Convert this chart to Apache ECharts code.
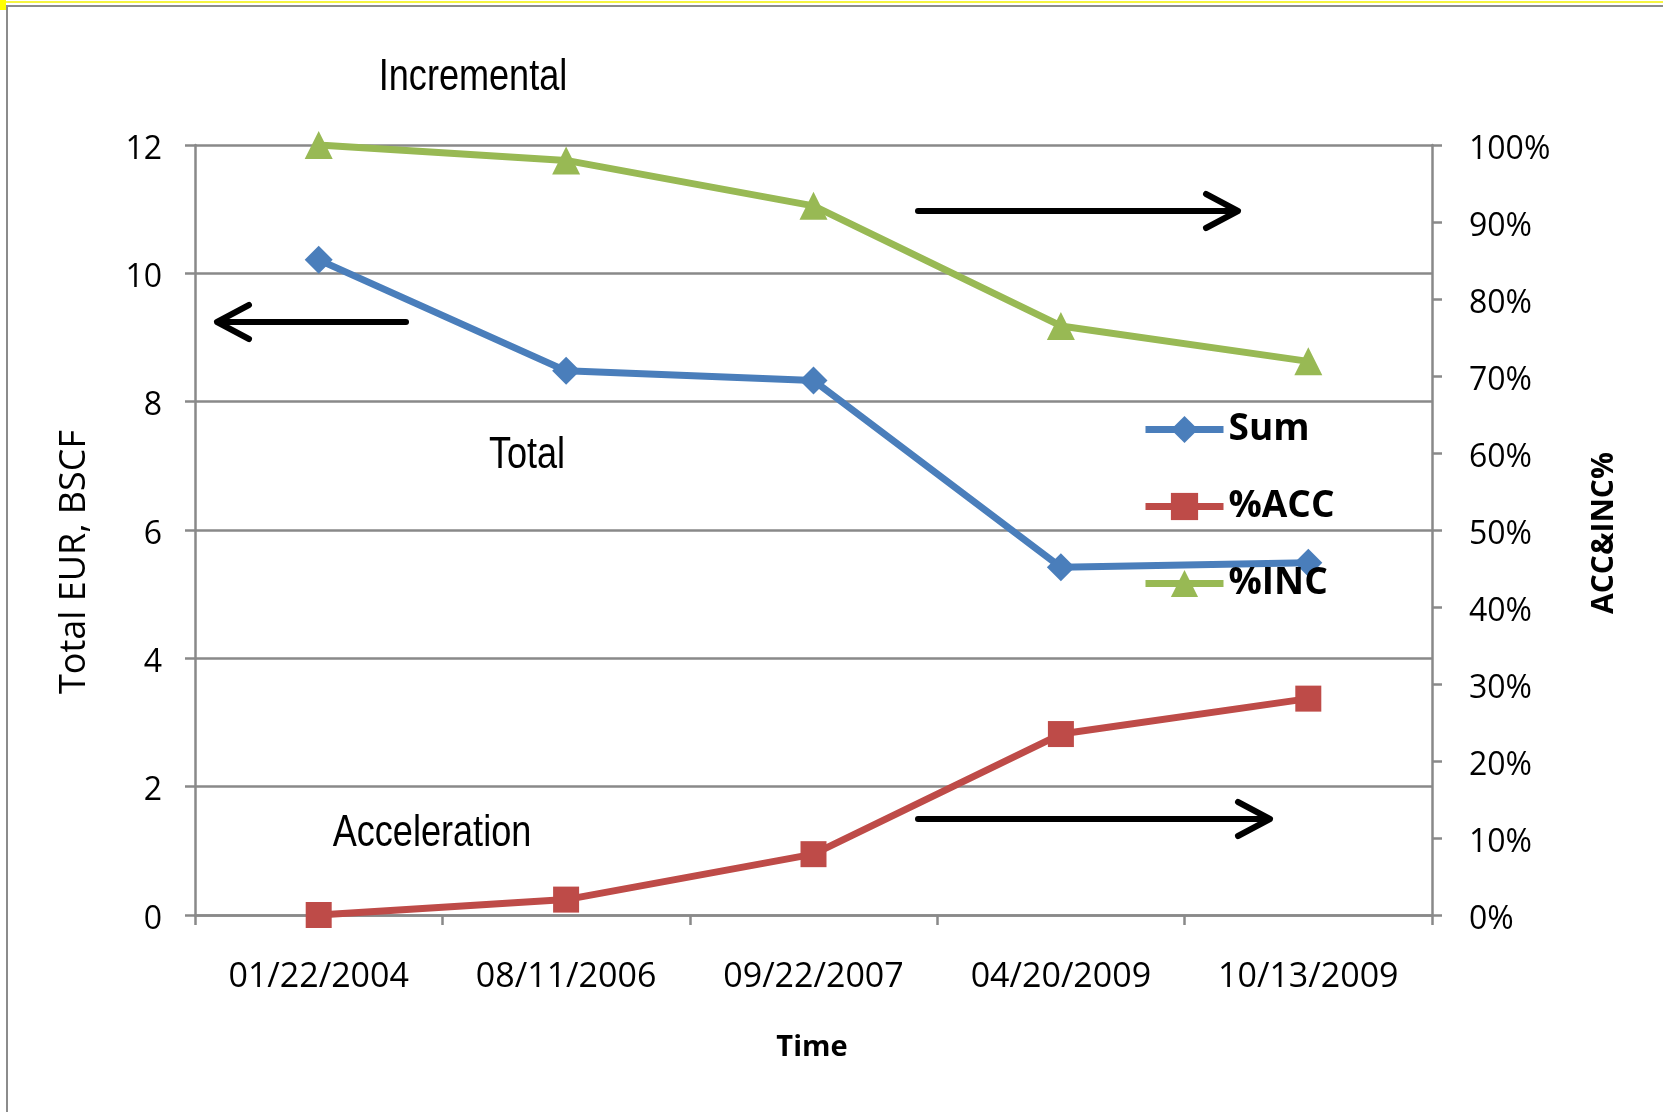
<!DOCTYPE html>
<html>
<head>
<meta charset="utf-8">
<script src="https://cdn.jsdelivr.net/npm/echarts@6/dist/echarts.min.js"></script>
<style>
html,body{margin:0;padding:0;background:#fff;}
#chart{width:1663px;height:1112px;}
</style>
</head>
<body>
<div id="chart"></div>
<script>
const categories = ['01/22/2004', '08/11/2006', '09/22/2007', '04/20/2009', '10/13/2009'];
const sumValues = [10.21, 8.48, 8.33, 5.42, 5.49];
const accValues = [0.0, 0.02, 0.079, 0.235, 0.281];
const incValues = [1.0, 0.98, 0.921, 0.765, 0.719];
const leftTicks = { min: 0, max: 12, interval: 2 };
const rightTicks = { min: 0, max: 1, interval: 0.1 };

const AX = '#898989';
const LABEL_FONT = "'Open Sans', 'Liberation Sans', sans-serif";
const NARROW_FONT = "'Liberation Sans', Arial, sans-serif";

const chart = echarts.init(document.getElementById('chart'), null, { renderer: 'canvas' });

function arrow(points, head) {
  return [
    { type: 'polyline', shape: { points: points }, style: { stroke: '#000', lineWidth: 6, lineCap: 'round', fill: null }, z: 50 },
    { type: 'polyline', shape: { points: head }, style: { stroke: '#000', lineWidth: 6, lineCap: 'round', lineJoin: 'round', fill: null }, z: 50 }
  ];
}
function narrowText(txt, x, y) {
  return { type: 'text', x: x, y: y, scaleX: 0.82, style: { text: txt, font: '44px ' + NARROW_FONT, fill: '#000', align: 'center', verticalAlign: 'middle' } };
}
const yLabelRich = { t: { fontSize: 32, color: '#000', fontFamily: LABEL_FONT, padding: [9, 0, 0, 0] } };

const option = {
  backgroundColor: '#ffffff',
  animation: false,
  grid: { left: 195, right: 231, top: 145, bottom: 197, containLabel: false },
  legend: {
    orient: 'vertical',
    left: 1137,
    top: 406,
    itemWidth: 78,
    itemHeight: 34,
    itemGap: 40,
    data: ['Sum', '%ACC', '%INC'],
    lineStyle: { width: 7 },
    textStyle: { fontSize: 37, fontWeight: 'bold', color: '#000', fontFamily: LABEL_FONT }
  },
  xAxis: {
    type: 'category',
    data: categories,
    boundaryGap: true,
    axisLine: { lineStyle: { color: AX, width: 2.5 } },
    axisTick: { show: true, length: 10, lineStyle: { color: AX, width: 2.5 } },
    axisLabel: { margin: 45, fontSize: 34, color: '#000', fontFamily: LABEL_FONT }
  },
  yAxis: [
    {
      type: 'value',
      min: leftTicks.min, max: leftTicks.max, interval: leftTicks.interval,
      axisLine: { show: true, lineStyle: { color: AX, width: 2.5 } },
      axisTick: { show: true, length: 10, lineStyle: { color: AX, width: 2.5 } },
      splitLine: { show: true, lineStyle: { color: AX, width: 2.5 } },
      axisLabel: { margin: 33, rich: yLabelRich, formatter: v => '{t|' + v + '}' }
    },
    {
      type: 'value',
      position: 'right',
      min: rightTicks.min, max: rightTicks.max, interval: rightTicks.interval,
      axisLine: { show: true, lineStyle: { color: AX, width: 2.5 } },
      axisTick: { show: true, length: 10, lineStyle: { color: AX, width: 2.5 } },
      splitLine: { show: false },
      axisLabel: { margin: 37, rich: yLabelRich,
        formatter: v => '{t|' + Math.round(v * 100) + '%}' }
    }
  ],
  series: [
    {
      name: 'Sum', type: 'line', yAxisIndex: 0, data: sumValues,
      symbol: 'diamond', symbolSize: 28, showSymbol: true,
      lineStyle: { color: '#4a7ebb', width: 7 },
      itemStyle: { color: '#4a7ebb' }
    },
    {
      name: '%ACC', type: 'line', yAxisIndex: 1, data: accValues,
      symbol: 'rect', symbolSize: 26,
      lineStyle: { color: '#be4b48', width: 7 },
      itemStyle: { color: '#be4b48' }
    },
    {
      name: '%INC', type: 'line', yAxisIndex: 1, data: incValues,
      symbol: 'triangle', symbolSize: 28,
      lineStyle: { color: '#98b954', width: 7 },
      itemStyle: { color: '#98b954' }
    }
  ],
  graphic: [
    { type: 'rect', shape: { x: 7, y: 6, width: 1700, height: 1200 }, style: { stroke: '#8c8c8c', lineWidth: 2, fill: null }, z: -10, silent: true },
    { type: 'line', shape: { x1: 0, y1: 2, x2: 1663, y2: 2 }, style: { stroke: '#f5f542', lineWidth: 2 }, z: -9 },
    { type: 'rect', shape: { x: 0, y: 0, width: 6, height: 10 }, style: { fill: '#ffff00' }, z: -9 },
    narrowText('Incremental', 473, 78),
    narrowText('Total', 527, 456),
    narrowText('Acceleration', 432, 834),
    { type: 'text', x: 812, y: 1048, style: { text: 'Time', font: 'bold 29px ' + LABEL_FONT, fill: '#000', align: 'center', verticalAlign: 'middle' } },
    { type: 'text', x: 75, y: 562, rotation: Math.PI / 2, style: { text: 'Total EUR, BSCF', font: '36px ' + LABEL_FONT, fill: '#000', align: 'center', verticalAlign: 'middle' } },
    { type: 'text', x: 1604, y: 533, rotation: Math.PI / 2, style: { text: 'ACC&INC%', font: 'bold 30px ' + LABEL_FONT, fill: '#000', align: 'center', verticalAlign: 'middle' } },
    ...arrow([[406, 322], [220, 322]], [[249, 305], [217, 322], [249, 339]]),
    ...arrow([[918, 211], [1235, 211]], [[1206, 194], [1238, 211], [1206, 228]]),
    ...arrow([[918, 819], [1267, 819]], [[1238, 802], [1270, 819], [1238, 836]])
  ]
};
chart.setOption(option);
</script>
</body>
</html>
